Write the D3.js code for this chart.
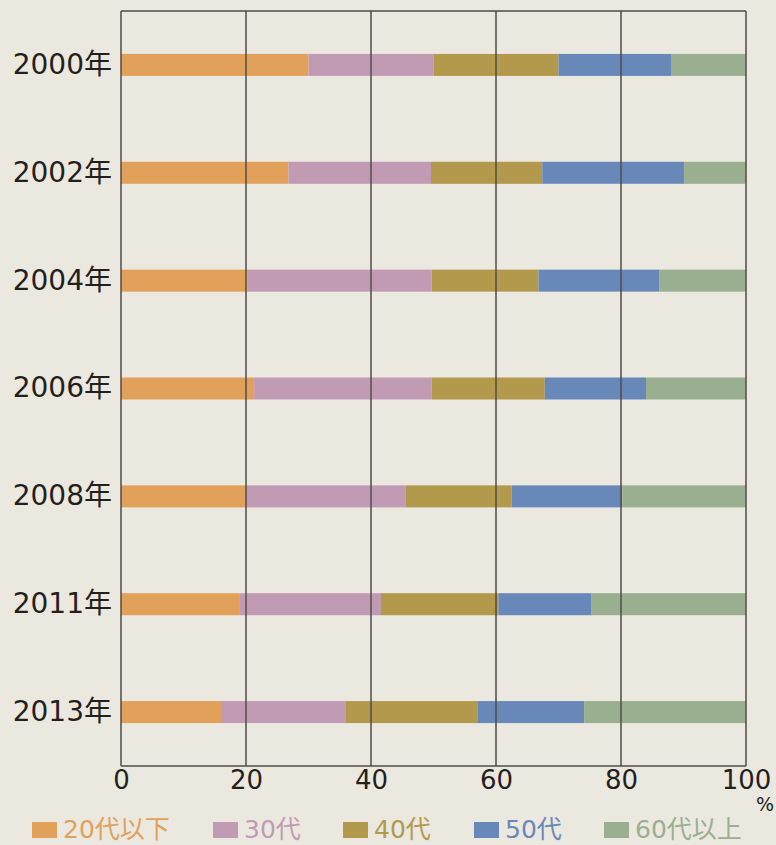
<!DOCTYPE html>
<html lang="ja">
<head>
<meta charset="utf-8">
<script src="https://cdn.jsdelivr.net/npm/d3@7/dist/d3.min.js"></script>
<style type="text/css">
body {
	margin: 0;
	background: #ebe8e0;
	font-family: "DejaVu Sans", "Noto Sans CJK JP", sans-serif;
}
</style>
</head>
<body>
<script type="text/javascript">

// data (percent share by age group)
var years = ["2000年", "2002年", "2004年", "2006年", "2008年", "2011年", "2013年"];
var groups = ["20代以下", "30代", "40代", "50代", "60代以上"];
var under20s = [30.0, 26.8, 20.3, 21.3, 19.9, 18.9, 16.0];
var thirties = [20.0, 22.8, 29.4, 28.4, 25.6, 22.7, 20.0];
var forties  = [20.0, 17.8, 17.1, 18.1, 17.0, 18.8, 21.1];
var fifties  = [18.0, 22.7, 19.3, 16.2, 17.7, 14.9, 17.0];
var over60s  = [12.0,  9.9, 13.9, 16.0, 19.8, 24.7, 25.9];
var xTicks = [0, 20, 40, 60, 80, 100];
var colors = ["#e1a15b", "#c19bb3", "#b2994c", "#6888ba", "#9aaf90"];

var width = 776;
var height = 845;
var margin = {left: 121, right: 30, top: 11, bottom: 79};
var fonts = "'DejaVu Sans', 'Noto Sans CJK JP', sans-serif";

var svg = d3.select("body")
			.append("svg")
			.attr("width", width)
			.attr("height", height);

svg.append("rect")
	.attr("width", width)
	.attr("height", height)
	.style("fill", "#ebe8e0");

var x = d3.scaleLinear()
		  .domain([0, 100])
		  .range([margin.left, width - margin.right]);

var y = d3.scaleBand()
		  .domain(years)
		  .range([margin.top, height - margin.bottom])
		  .padding(0);

var barH = 22;

// build rows for stacking
var rows = years.map(function(yr, i) {
	return {year: yr, "20代以下": under20s[i], "30代": thirties[i], "40代": forties[i], "50代": fifties[i], "60代以上": over60s[i]};
});
var series = d3.stack().keys(groups)(rows);

// bars
svg.selectAll("g.layer")
	.data(series)
	.enter()
	.append("g")
	.attr("class", "layer")
	.style("fill", function(d, i) { return colors[i]; })
	.selectAll("rect")
	.data(function(d) { return d; })
	.enter()
	.append("rect")
	.attr("x", function(d) { return x(d[0]); })
	.attr("width", function(d) { return x(d[1]) - x(d[0]); })
	.attr("y", function(d) { return y(d.data.year) + y.bandwidth() / 2 - barH / 2; })
	.attr("height", barH);

// grid lines and frame
svg.selectAll("line.grid")
	.data(xTicks)
	.enter()
	.append("line")
	.attr("class", "grid")
	.attr("x1", function(d) { return x(d); })
	.attr("x2", function(d) { return x(d); })
	.attr("y1", margin.top)
	.attr("y2", height - margin.bottom)
	.style("stroke", "#4f4c48")
	.style("stroke-width", 1.5);

[margin.top, height - margin.bottom].forEach(function(yy) {
	svg.append("line")
		.attr("x1", x(0))
		.attr("x2", x(100))
		.attr("y1", yy)
		.attr("y2", yy)
		.style("stroke", "#4f4c48")
		.style("stroke-width", 1.5);
});

// x axis labels
var xAxis = d3.axisBottom(x).tickValues(xTicks).tickSize(0).tickPadding(8);
var gx = svg.append("g")
	.attr("transform", "translate(0," + (height - margin.bottom) + ")")
	.call(xAxis);
gx.select(".domain").remove();
gx.selectAll("text")
	.style("font-family", fonts)
	.style("font-size", "26px")
	.style("fill", "#231f1c")
	.attr("dy", "0.58em");

svg.append("text")
	.attr("x", 765)
	.attr("y", 811)
	.attr("text-anchor", "middle")
	.style("font-family", fonts)
	.style("font-size", "19px")
	.style("fill", "#231f1c")
	.text("%");

// y labels
var yAxis = d3.axisLeft(y).tickSize(0).tickPadding(9);
var gy = svg.append("g")
	.attr("transform", "translate(" + margin.left + ",0)")
	.call(yAxis);
gy.select(".domain").remove();
gy.selectAll("text")
	.style("font-family", fonts)
	.style("font-size", "28px")
	.style("fill", "#231f1c");

// legend
var legendX = [32, 213, 343, 474, 604];
var legend = svg.selectAll("g.legend")
	.data(groups)
	.enter()
	.append("g")
	.attr("class", "legend")
	.attr("transform", function(d, i) { return "translate(" + legendX[i] + ",0)"; });

legend.append("rect")
	.attr("y", 822)
	.attr("width", 25)
	.attr("height", 16)
	.style("fill", function(d, i) { return colors[i]; });

legend.append("text")
	.attr("x", 31)
	.attr("y", 838)
	.style("font-family", fonts)
	.style("font-size", "25px")
	.style("fill", function(d, i) { return colors[i]; })
	.text(function(d) { return d; });

</script>
</body>
</html>
